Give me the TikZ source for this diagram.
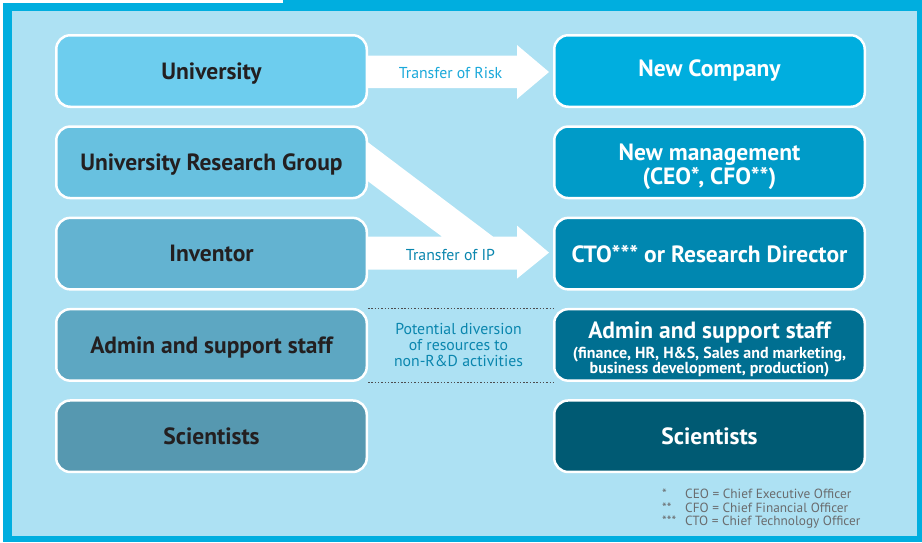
\documentclass[tikz,border=0pt]{standalone}
\usepackage{fontspec}
\setmainfont{PT Sans}
\usepackage{tikz}
\usetikzlibrary{positioning,calc}
\definecolor{frameblue}{HTML}{00AEDF}
\definecolor{bgblue}{HTML}{ADE1F3}
\definecolor{txtdark}{HTML}{231F20}
\definecolor{notegrey}{HTML}{6A6C6E}
\definecolor{riskcol}{HTML}{1BA9DA}
\definecolor{ipcol}{HTML}{0A86AE}
\definecolor{dotgrey}{HTML}{4D4D4F}
\definecolor{cUni}{HTML}{6DCDEE}
\definecolor{cUrg}{HTML}{68C1E0}
\definecolor{cInv}{HTML}{63B3D1}
\definecolor{cAdm}{HTML}{5DA7C2}
\definecolor{cSci}{HTML}{5698B0}
\definecolor{cNew}{HTML}{00AEDF}
\definecolor{cMgt}{HTML}{009BC8}
\definecolor{cCto}{HTML}{0087B0}
\definecolor{cAdmR}{HTML}{006F91}
\definecolor{cSciR}{HTML}{005A73}

\begin{document}
\begin{tikzpicture}
    [x=1pt,y=-1pt,
    lbox/.style={rounded corners=14pt,rectangle,draw=white,line width=2.5pt,minimum width=310.5pt,minimum height=71.5pt,text=txtdark,font=\fontsize{23.5}{24}\selectfont\bfseries,align=center},
    rbox/.style={lbox,text=white},
    lbl/.style={font=\fontsize{15.8}{16}\selectfont,align=center}]
    \useasboundingbox (0,0) rectangle (922,542);

    % frame
    \fill[frameblue] (3,3) rectangle (922,542);
    \fill[frameblue] (283,0) rectangle (922,3);
    \fill[bgblue] (12,11) rectangle (917,536);

    % university side
    \node[lbox,fill=cUni,text depth=0pt] (uni) at (211.5,71) {University};
    \node[lbox,fill=cUrg,text depth=0pt,below=17.3pt of uni] (urg) {University Research Group};
    \node[lbox,fill=cInv,text depth=0pt,below=17.3pt of urg] (inv) {Inventor};
    \node[lbox,fill=cAdm,text depth=0pt,below=17.3pt of inv] (adm) {Admin and support staff};
    \node[lbox,fill=cSci,text depth=0pt,below=17.3pt of adm] (sci) {Scientists};

    % company side
    \node[rbox,fill=cNew,right=185pt of uni] (newco) {New Company};
    \node[rbox,fill=cMgt,right=185pt of urg,text height=50pt] (mgt) {New management\\(CEO*, CFO**)};
    \node[rbox,fill=cCto,right=185pt of inv] (cto) {CTO*** or Research Director};
    \node[rbox,fill=cAdmR,right=185pt of adm,text height=61pt,font=\fontsize{23.5}{15.5}\selectfont\bfseries] (admR) {Admin and support staff\\[3pt]
        {\fontsize{16}{15.5}\selectfont (finance, HR, H\&S, Sales and marketing,}\\
        {\fontsize{16}{15.5}\selectfont business development, production)}};
    \node[rbox,fill=cSciR,right=185pt of sci] (sciR) {Scientists};

    % transfer arrows
    \fill[white] ($(uni.east)+(0,-15.5)$) -- ($(newco.west)+(-36,-15.5)$) -- ($(newco.west)+(-36,-26)$)
        -- ($(newco.west)+(-4,1)$) -- ($(newco.west)+(-36,28)$) -- ($(newco.west)+(-36,17)$)
        -- ($(uni.east)+(0,17)$) -- cycle;
    \node[lbl,text=riskcol] (risk) at ($(uni.east)!0.5!(newco.west)+(-10,2)$) {Transfer of Risk};

    \fill[white] ($(urg.east)+(0,-20)$) -- ($(inv.east)+(125,-17)$) -- ($(cto.west)+(-36,-17)$)
        -- ($(cto.west)+(-36,-28)$) -- ($(cto.west)+(-4,-1)$) -- ($(cto.west)+(-36,25)$)
        -- ($(cto.west)+(-36,16)$) -- ($(inv.east)+(0,16)$) -- ($(inv.east)+(0,-17)$)
        -- ($(inv.east)+(74,-17)$) -- ($(urg.east)+(0,19)$) -- cycle;
    \node[lbl,text=ipcol] (ip) at ($(inv.east)!0.5!(cto.west)+(-10,1)$) {Transfer of IP};

    % diversion
    \draw[dotgrey,line width=0.8pt,dash pattern=on 1.5pt off 1.8pt] (adm.north east) -- (admR.north west);
    \draw[dotgrey,line width=0.8pt,dash pattern=on 1.5pt off 1.8pt] (adm.south east) -- (admR.south west);
    \node[lbl,text=ipcol] (div) at ($(adm.east)!0.5!(admR.west)+(-2,0)$) {Potential diversion\\of resources to\\non-R\&D activities};

    % notes
    \node[anchor=west,font=\fontsize{13.3}{13}\selectfont,text=notegrey,inner sep=0pt] (notes) at (662,509.5)
        {\begin{tabular}{@{}p{23pt}@{}l@{}}
        {*} & CEO = Chief Executive Officer\\
        {**} & CFO = Chief Financial Officer\\
        {***} & CTO = Chief Technology Officer
        \end{tabular}};
\end{tikzpicture}
\end{document}
